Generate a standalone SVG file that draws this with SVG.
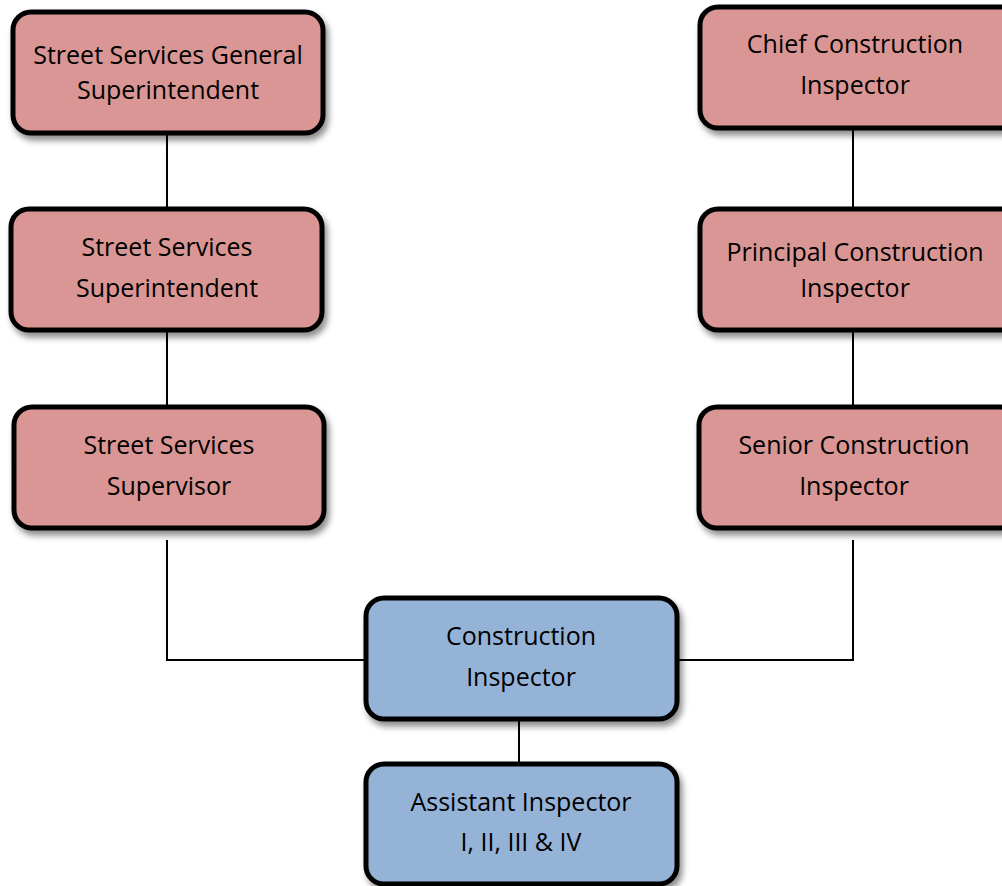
<svg xmlns="http://www.w3.org/2000/svg" width="1002" height="886" viewBox="0 0 1002 886">
<defs>
<filter id="sh" x="-10%" y="-10%" width="125%" height="140%">
<feDropShadow dx="3" dy="5" stdDeviation="3" flood-color="#000" flood-opacity="0.45"/>
</filter>
</defs>
<style>
.box{stroke:#000;stroke-width:5;filter:url(#sh)}
.red{fill:#D99694}
.blue{fill:#95B3D7}
.t{font-family:"Open Sans","Liberation Sans",sans-serif;font-size:25px;fill:#000;text-anchor:middle}
.c{stroke:#000;stroke-width:2;fill:none}
</style>
<rect width="1002" height="886" fill="#fff"/>
<g id="connectors">
<line class="c" x1="167" y1="133" x2="167" y2="209"/>
<line class="c" x1="167" y1="330" x2="167" y2="407"/>
<polyline class="c" points="167,540 167,660 366,660"/>
<line class="c" x1="853" y1="128" x2="853" y2="209"/>
<line class="c" x1="853" y1="330" x2="853" y2="407"/>
<polyline class="c" points="853,540 853,660 677,660"/>
<line class="c" x1="519" y1="719" x2="519" y2="764"/>
</g>
<g id="n1">
<rect class="box red" x="13" y="12" width="310" height="121" rx="18"/>
<text class="t" x="168" y="64">Street Services General</text>
<text class="t" x="168" y="99">Superintendent</text>
</g>
<g id="n2">
<rect class="box red" x="11" y="209" width="311" height="121" rx="18"/>
<text class="t" x="167" y="256">Street Services</text>
<text class="t" x="167" y="297">Superintendent</text>
</g>
<g id="n3">
<rect class="box red" x="14" y="407" width="310" height="121" rx="18"/>
<text class="t" x="169" y="454">Street Services</text>
<text class="t" x="169" y="495">Supervisor</text>
</g>
<g id="n4">
<rect class="box red" x="700" y="7" width="320" height="121" rx="18"/>
<text class="t" x="855" y="53">Chief Construction</text>
<text class="t" x="855" y="94">Inspector</text>
</g>
<g id="n5">
<rect class="box red" x="700" y="209" width="320" height="121" rx="18"/>
<text class="t" x="855" y="261">Principal Construction</text>
<text class="t" x="855" y="297">Inspector</text>
</g>
<g id="n6">
<rect class="box red" x="699" y="407" width="320" height="121" rx="18"/>
<text class="t" x="854" y="454">Senior Construction</text>
<text class="t" x="854" y="495">Inspector</text>
</g>
<g id="n7">
<rect class="box blue" x="366" y="598" width="311" height="121" rx="18"/>
<text class="t" x="521" y="645">Construction</text>
<text class="t" x="521" y="686">Inspector</text>
</g>
<g id="n8">
<rect class="box blue" x="366" y="764" width="311" height="120" rx="18"/>
<text class="t" x="521" y="811">Assistant Inspector</text>
<text class="t" x="521" y="851">I, II, III &amp; IV</text>
</g>
</svg>
